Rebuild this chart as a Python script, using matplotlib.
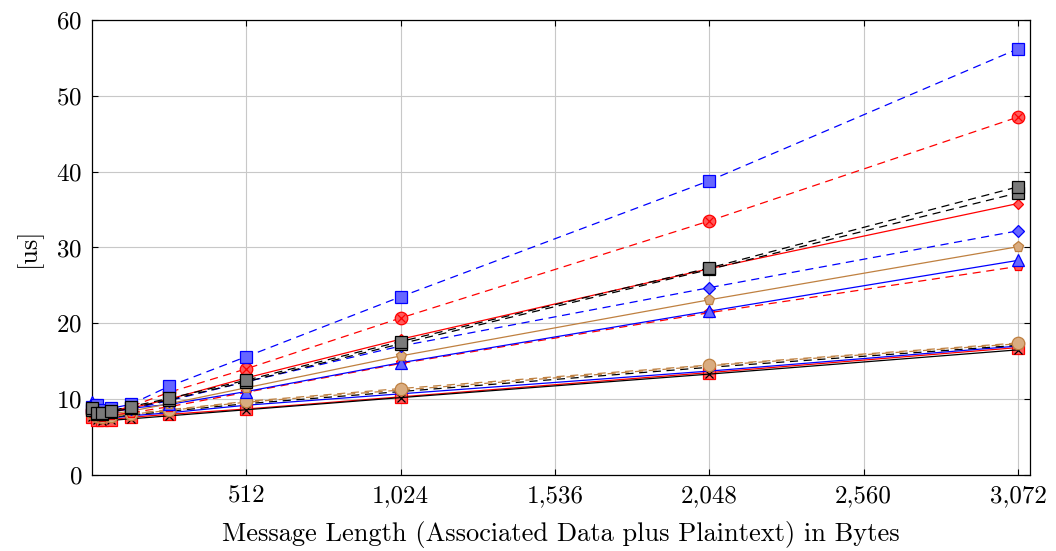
import matplotlib

matplotlib.use("Agg")
import matplotlib.pyplot as plt

plt.rcParams["font.family"] = "serif"
plt.rcParams["font.serif"] = ["cmr10", "DejaVu Serif"]
plt.rcParams["mathtext.fontset"] = "cm"
plt.rcParams["axes.formatter.use_mathtext"] = True

# message length in bytes
msg_len = [0, 16, 32, 64, 128, 256, 512, 1024, 2048, 3072]

x_ticks = [512, 1024, 1536, 2048, 2560, 3072]
x_tick_labels = ["512", "1,024", "1,536", "2,048", "2,560", "3,072"]
y_ticks = [0, 10, 20, 30, 40, 50, 60]

# timings in microseconds
blue_dash_sq = [9.0, 9.2, 8.6, 8.8, 9.3, 11.7, 15.6, 23.5, 38.8, 56.2]
red_dash_otimes = [8.6, 8.5, 8.2, 8.4, 9.0, 10.9, 14.0, 20.7, 33.5, 47.2]
black_dash_sq_a = [8.8, 8.2, 8.2, 8.5, 9.0, 10.1, 12.5, 17.6, 27.3, 38.0]
black_dash_sq_b = [8.6, 8.0, 8.0, 8.3, 8.8, 9.9, 12.3, 17.3, 27.1, 37.2]
red_solid_dia = [8.5, 8.2, 8.0, 8.3, 8.8, 10.0, 12.8, 17.9, 27.2, 35.8]
blue_dash_dia = [8.6, 8.3, 8.1, 8.3, 8.7, 9.8, 12.3, 17.0, 24.7, 32.2]
brown_solid_pent = [8.3, 8.0, 7.8, 8.1, 8.4, 9.4, 11.5, 15.7, 23.1, 30.1]
blue_solid_tri = [9.6, 9.0, 8.4, 8.5, 8.8, 9.3, 11.0, 14.8, 21.6, 28.3]
red_dash_pent = [8.2, 7.8, 7.6, 7.9, 8.2, 9.0, 10.9, 14.7, 21.4, 27.5]

brown_dash_circ = [8.2, 7.8, 7.6, 7.8, 8.1, 8.6, 9.7, 11.4, 14.5, 17.4]
brown_dash = [8.1, 7.7, 7.5, 7.7, 8.0, 8.5, 9.6, 11.2, 14.4, 17.3]
black_dash = [8.0, 7.6, 7.5, 7.6, 7.9, 8.4, 9.4, 11.0, 14.2, 17.1]
blue_solid = [7.9, 7.5, 7.4, 7.5, 7.8, 8.2, 9.2, 10.7, 13.7, 17.0]
red_solid_sq = [7.7, 7.3, 7.2, 7.3, 7.6, 8.0, 8.7, 10.3, 13.5, 16.8]
black_solid_x = [7.6, 7.2, 7.1, 7.2, 7.4, 7.8, 8.6, 10.2, 13.3, 16.5]

BLUE, RED, BLACK, BROWN = "#0000ff", "#ff0000", "#000000", "#bf8040"
BLUE_F, RED_F, GRAY_F, BROWN_F = "#6666ff", "#ff5a5a", "#7a7a7a", "#d9ac80"
DASH = (0, (6.5, 4.5))
DASH2 = (3, (6.5, 4.5))

# (values, line colour, linestyle, marker, face, edge, size)
series = [
    (red_solid_sq, RED, "-", "s", RED_F, RED, 8),
    (black_solid_x, BLACK, "-", "x", "none", BLACK, 6),
    (blue_solid, BLUE, "-", None, None, None, 0),
    (black_dash, BLACK, DASH, None, None, None, 0),
    (brown_dash, BROWN, DASH2, None, None, None, 0),
    (brown_dash_circ, BROWN, DASH, "o", BROWN_F, BROWN, 9),
    (red_dash_pent, RED, DASH, "p", RED_F, RED, 8),
    (blue_solid_tri, BLUE, "-", "^", BLUE_F, BLUE, 8),
    (brown_solid_pent, BROWN, "-", "p", BROWN_F, BROWN, 8),
    (blue_dash_dia, BLUE, DASH, "D", BLUE_F, BLUE, 6),
    (red_solid_dia, RED, "-", "D", RED_F, RED, 5),
    (red_dash_otimes, RED, DASH, "o", RED_F, RED, 9),
    (blue_dash_sq, BLUE, DASH, "s", BLUE_F, BLUE, 9),
    (black_dash_sq_b, BLACK, DASH, "s", GRAY_F, BLACK, 9),
    (black_dash_sq_a, BLACK, DASH2, "s", GRAY_F, BLACK, 9),
]

fig = plt.figure(figsize=(10.56, 5.51), dpi=100)
ax = fig.add_axes([0.0871, 0.138, 0.8883, 0.8257])

for i, (vals, col, ls, mk, face, edge, ms) in enumerate(series):
    ax.plot(msg_len, vals, color=col, linestyle=ls, linewidth=0.9, zorder=3 + i,
            marker=mk, markersize=ms, markerfacecolor=face, markeredgecolor=edge,
            markeredgewidth=0.9, clip_on=False)
    if vals is red_dash_otimes:
        # the cross inside the circled markers
        ax.plot(msg_len, vals, linestyle="none", marker="x", markersize=5.5,
                markeredgecolor=RED, markeredgewidth=0.9, zorder=3 + i, clip_on=False)

ax.set_xlim(0, 3112)
ax.set_ylim(0, 60)
ax.set_xticks(x_ticks)
ax.set_xticklabels(x_tick_labels)
ax.set_yticks(y_ticks)
ax.tick_params(direction="in", top=True, right=True, labelsize=18, length=4, pad=7)
ax.grid(True, color="#c8c8c8", linewidth=0.8, zorder=0)
ax.set_axisbelow(True)
for sp in ax.spines.values():
    sp.set_linewidth(0.9)

ax.set_xlabel("Message Length (Associated Data plus Plaintext) in Bytes", fontsize=19, labelpad=10)
ax.set_ylabel("[us]", fontsize=19, labelpad=10)

fig.savefig("out.png", dpi=100)
